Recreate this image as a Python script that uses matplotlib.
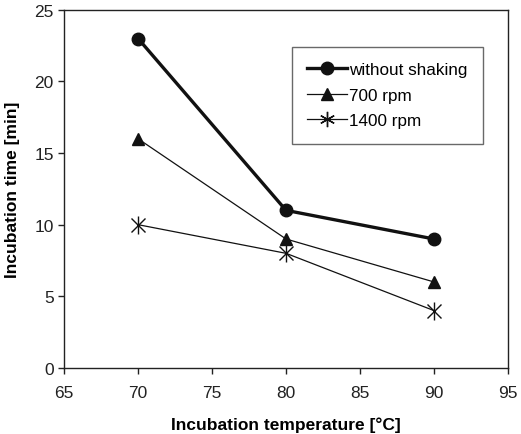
import matplotlib
matplotlib.use("Agg")
import matplotlib.pyplot as plt
from matplotlib.lines import Line2D

plt.rcParams["font.family"] = ["Liberation Sans", "DejaVu Sans"]

temperatures = [70, 80, 90]
without_shaking = [23, 11, 9]
rpm_700 = [16, 9, 6]
rpm_1400 = [10, 8, 4]

fig = plt.figure(figsize=(5.21, 4.35), dpi=100)
ax = fig.add_axes([0.123, 0.152, 0.852, 0.823])

ax.plot(temperatures, without_shaking, marker="o", color="#111111",
        linewidth=2.4, markersize=9, label="without shaking")
ax.plot(temperatures, rpm_700, marker="^", color="#111111",
        linewidth=0.9, markersize=9, label="700 rpm")
# asterisk = x marker + vertical bar
ax.plot(temperatures, rpm_1400, marker="x", color="#111111",
        linewidth=0.9, markersize=10, markeredgewidth=1.0, label="1400 rpm")
ax.plot(temperatures, rpm_1400, marker="|", color="#111111", linestyle="none",
        markersize=13, markeredgewidth=1.0)

ax.set_xlim(65, 95)
ax.set_ylim(0, 25)
ax.set_xticks(range(65, 96, 5))
ax.set_yticks(range(0, 26, 5))
ax.tick_params(direction="out", length=4, width=1, labelsize=12.5, colors="#222222")
ax.tick_params(axis="x", pad=8)
for side in ax.spines.values():
    side.set_linewidth(1.0)
    side.set_color("#222222")

ax.set_xlabel("Incubation temperature [°C]", fontsize=12.5, fontweight="bold", labelpad=12)
ax.set_ylabel("Incubation time [min]", fontsize=12.5, fontweight="bold", labelpad=10)

handles = [
    Line2D([], [], color="#111111", marker="o", linewidth=2.4, markersize=9),
    Line2D([], [], color="#111111", marker="^", linewidth=0.9, markersize=9),
    Line2D([], [], color="#111111", marker=(6, 2, 0), linewidth=0.9, markersize=11),
]
leg = ax.legend(handles, ["without shaking", "700 rpm", "1400 rpm"],
                loc="upper left", bbox_to_anchor=(0.513, 0.897),
                fontsize=12.3, frameon=True, fancybox=False, edgecolor="#444444",
                handlelength=2.35, handletextpad=0.12, borderpad=0.9,
                labelspacing=0.62, borderaxespad=0)
leg.get_frame().set_linewidth(1.0)

fig.savefig("out.png", dpi=100)
